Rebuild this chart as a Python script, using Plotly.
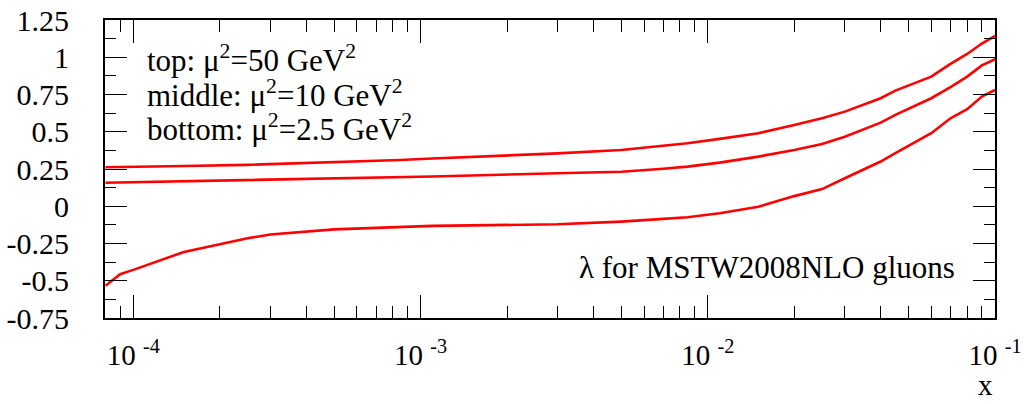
import plotly.graph_objects as go

# Momentum fraction grid shared by the three curves
x_vals = [8e-5, 9e-5, 1e-4, 1.5e-4, 2.5e-4, 3e-4, 5e-4, 8.5e-4, 1.1e-3, 3e-3,
          5e-3, 7e-3, 8.5e-3, 1.1e-2, 1.5e-2, 2e-2, 2.5e-2, 3e-2, 4e-2, 4.5e-2,
          6e-2, 7e-2, 8e-2, 9e-2, 0.1]

# lambda for MSTW2008NLO gluons at three scales
lam_mu50 = [0.262, 0.263, 0.265, 0.270, 0.278, 0.282, 0.295, 0.310, 0.320, 0.355,
            0.378, 0.405, 0.423, 0.452, 0.490, 0.545, 0.590, 0.635, 0.725, 0.776,
            0.870, 0.955, 1.022, 1.092, 1.143]
lam_mu10 = [0.158, 0.160, 0.162, 0.168, 0.175, 0.178, 0.185, 0.195, 0.200, 0.221,
            0.232, 0.252, 0.266, 0.293, 0.333, 0.378, 0.418, 0.467, 0.561, 0.613,
            0.725, 0.800, 0.870, 0.945, 0.987]
lam_mu2p5 = [-0.533, -0.456, -0.427, -0.307, -0.215, -0.190, -0.155, -0.137, -0.132, -0.121,
             -0.103, -0.085, -0.074, -0.047, -0.003, 0.068, 0.115, 0.188, 0.300, 0.356,
             0.490, 0.590, 0.651, 0.736, 0.780]

x_major = [1e-4, 1e-3, 1e-2, 1e-1]
x_major_text = ["10 <sup>-4</sup>", "10 <sup>-3</sup>", "10 <sup>-2</sup>", "10 <sup>-1</sup>"]
x_minor = [8e-5, 9e-5] + [m * 10.0 ** e for e in (-4, -3, -2) for m in range(2, 10)]

y_major = [-0.75, -0.5, -0.25, 0.0, 0.25, 0.5, 0.75, 1.0, 1.25]
y_major_text = ["-0.75", "-0.5", "-0.25", "0", "0.25", "0.5", "0.75", "1", "1.25"]
y_minor = [-0.625, -0.375, -0.125, 0.125, 0.375, 0.625, 0.875, 1.125]

scale_labels = [
    "top: \u03bc<sup>2</sup>=50 GeV<sup>2</sup>",
    "middle: \u03bc<sup>2</sup>=10 GeV<sup>2</sup>",
    "bottom: \u03bc<sup>2</sup>=2.5 GeV<sup>2</sup>",
]

FONT = "'Liberation Serif', 'Times New Roman', Times, serif"
RED = "#ff0000"

fig = go.Figure()
for ys in (lam_mu50, lam_mu10, lam_mu2p5):
    fig.add_trace(go.Scatter(x=x_vals, y=ys, mode="lines",
                             line=dict(color=RED, width=2.6), showlegend=False))

axis_common = dict(
    showline=True, linecolor="black", linewidth=2, mirror="allticks",
    ticks="inside", tickcolor="black", tickwidth=1,
    showgrid=False, zeroline=False, automargin=False,
)

fig.update_xaxes(
    type="log", range=[-4.0985, -1.0],
    tickmode="array", tickvals=x_major, ticktext=x_major_text, ticklen=23,
    minor=dict(tickmode="array", tickvals=x_minor, ticks="inside", ticklen=12,
               tickcolor="black", tickwidth=1, showgrid=False),
    tickfont=dict(family=FONT, size=29, color="black"),
    ticklabelstandoff=10,
    **axis_common,
)
fig.update_yaxes(
    range=[-0.75, 1.25],
    tickmode="array", tickvals=y_major, ticktext=y_major_text, ticklen=22,
    minor=dict(tickmode="array", tickvals=y_minor, ticks="inside", ticklen=11,
               tickcolor="black", tickwidth=1, showgrid=False),
    tickfont=dict(family=FONT, size=30, color="black"),
    ticklabelstandoff=28,
    **axis_common,
)

ann_font = dict(family=FONT, size=31, color="black")
for txt, yp in zip(scale_labels, (0.872, 0.755, 0.640)):
    fig.add_annotation(text=txt, xref="paper", yref="paper", x=0.045, y=yp,
                       xanchor="left", yanchor="middle", showarrow=False, font=ann_font)

fig.add_annotation(text="\u03bb for MSTW2008NLO gluons", xref="paper", yref="paper",
                   x=0.957, y=0.168, xanchor="right", yanchor="middle",
                   showarrow=False, font=ann_font)
fig.add_annotation(text="x", xref="paper", yref="paper", x=0.989, y=-0.225,
                   xanchor="center", yanchor="middle", showarrow=False,
                   font=dict(family=FONT, size=29, color="black"))

fig.update_layout(
    width=1024, height=404,
    margin=dict(l=105, r=29, t=20, b=86),
    paper_bgcolor="white", plot_bgcolor="white",
)

fig.write_html("out.html")
